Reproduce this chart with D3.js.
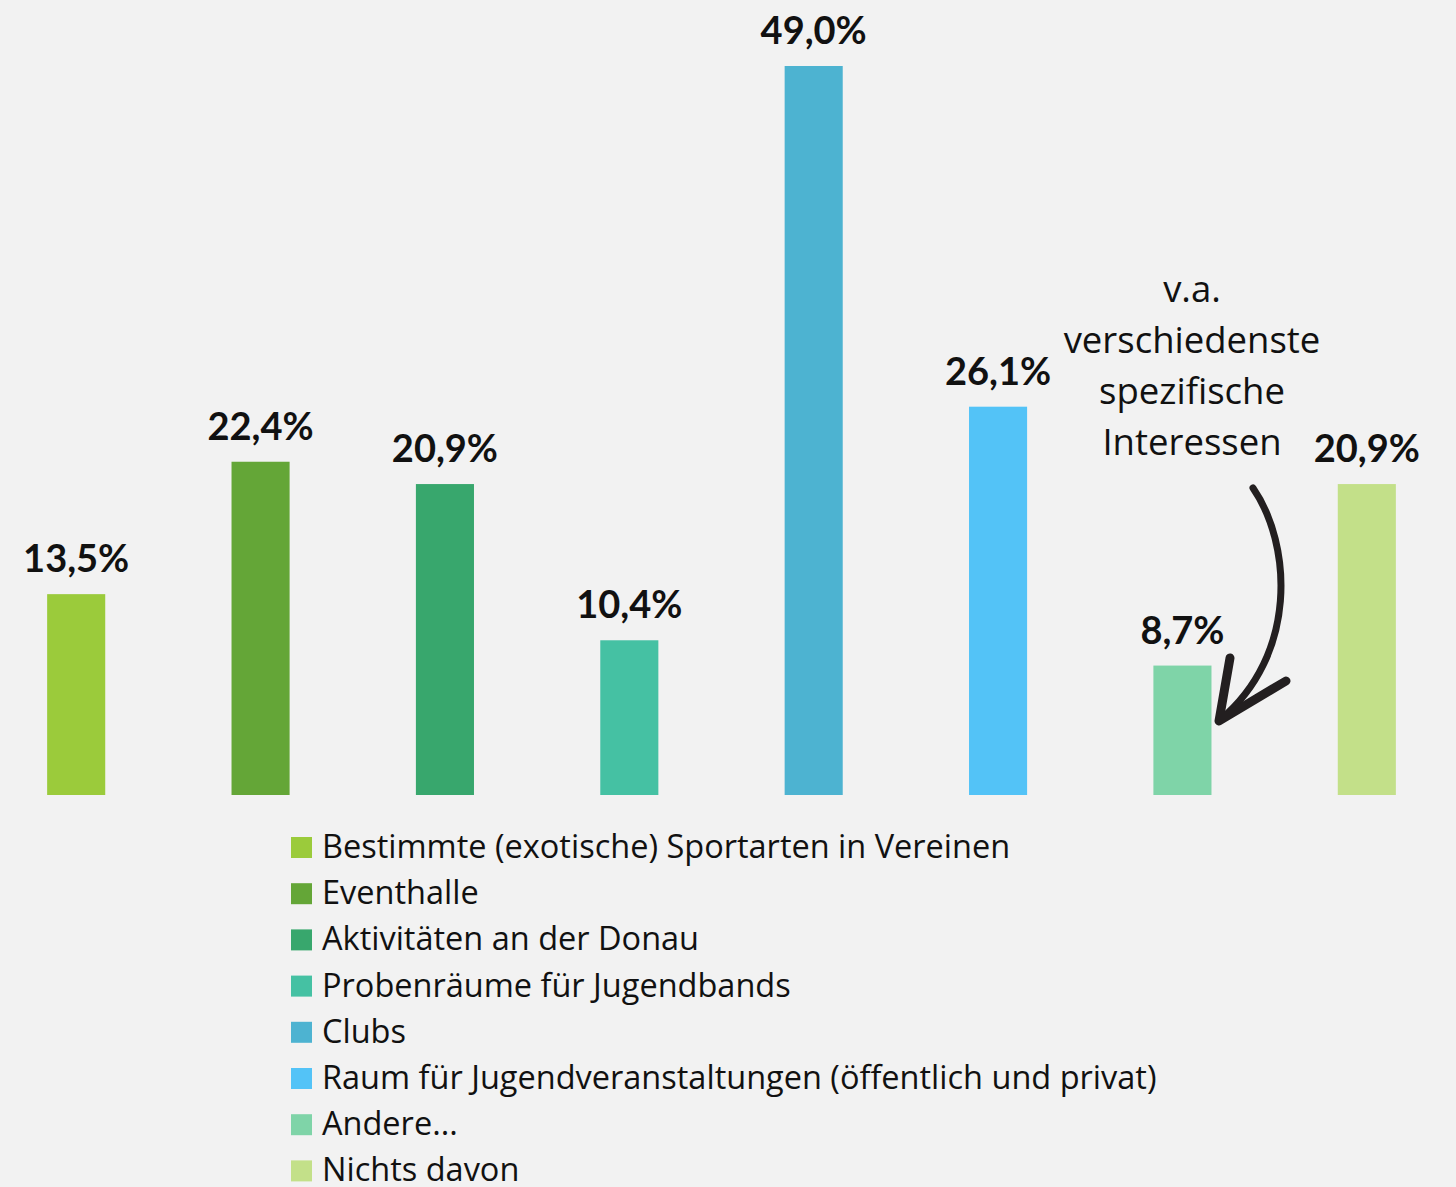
<!DOCTYPE html>
<html>
<head>
<meta charset="utf-8">
<script src="https://cdn.jsdelivr.net/npm/d3@7"></script>
<style>
  html, body { margin: 0; padding: 0; background: #f2f2f2; }
  svg { display: block; }
</style>
</head>
<body>
<div id="plot"></div>
<script>
var categories = [
  "Bestimmte (exotische) Sportarten in Vereinen",
  "Eventhalle",
  "Aktivitäten an der Donau",
  "Probenräume für Jugendbands",
  "Clubs",
  "Raum für Jugendveranstaltungen (öffentlich und privat)",
  "Andere...",
  "Nichts davon"
];

var values = [13.5, 22.4, 20.9, 10.4, 49.0, 26.1, 8.7, 20.9];

var colors = ["#9bcb3b", "#64a637", "#38a76d", "#45c1a3", "#4db3d1", "#53c3f7", "#7fd4a8", "#c3e089"];

var noteLines = ["v.a.", "verschiedenste", "spezifische", "Interessen"];

var width = 1456, height = 1187;
var baseY = 795;

function fmt(v) {
  return v.toFixed(1).replace(".", ",") + "%";
}

var svg = d3.select("#plot")
  .append("svg")
  .attr("width", width)
  .attr("height", height);

svg.append("rect")
  .attr("width", width)
  .attr("height", height)
  .attr("fill", "#f2f2f2");

const x = d3.scaleBand()
  .domain(categories)
  .range([-16, 1459])
  .paddingInner(0.685)
  .paddingOuter(0.3425);

const y = d3.scaleLinear()
  .domain([0, 49])
  .range([baseY, 66]);

var bars = svg.append("g");

bars.selectAll("rect")
  .data(values)
  .enter().append("rect")
  .attr("x", function (d, i) { return x(categories[i]); })
  .attr("y", function (d) { return y(d); })
  .attr("width", x.bandwidth())
  .attr("height", function (d) { return baseY - y(d); })
  .attr("fill", function (d, i) { return colors[i]; });

bars.selectAll("text")
  .data(values)
  .enter().append("text")
  .attr("x", function (d, i) { return x(categories[i]) + x.bandwidth() / 2; })
  .attr("y", function (d) { return y(d) - 22; })
  .attr("text-anchor", "middle")
  .style("font-family", "Lato")
  .style("font-weight", "bold")
  .style("font-size", "38px")
  .attr("fill", "#111")
  .text(function (d) { return fmt(d); });

// annotation for "Andere..."
var note = svg.append("text")
  .attr("text-anchor", "middle")
  .style("font-family", "'Open Sans'")
  .style("font-size", "36.5px")
  .attr("fill", "#111");

note.selectAll("tspan")
  .data(noteLines)
  .enter().append("tspan")
  .attr("x", 1192)
  .attr("y", function (d, i) { return 302 + i * 51; })
  .text(function (d) { return d; });

svg.append("path")
  .attr("d", "M1253,488 C1292,545 1298,655 1220,720")
  .attr("fill", "none")
  .attr("stroke", "#231f20")
  .attr("stroke-width", 7)
  .attr("stroke-linecap", "round");

svg.append("path")
  .attr("d", "M1230,658 L1219,721 L1286,681")
  .attr("fill", "none")
  .attr("stroke", "#231f20")
  .attr("stroke-width", 9)
  .attr("stroke-linecap", "round")
  .attr("stroke-linejoin", "round");

// legend
var legend = svg.append("g")
  .attr("transform", "translate(291, 837)");

var rows = legend.selectAll("g")
  .data(categories)
  .enter().append("g")
  .attr("transform", function (d, i) { return "translate(0," + (i * 46.2) + ")"; });

rows.append("rect")
  .attr("width", 21)
  .attr("height", 21)
  .attr("fill", function (d, i) { return colors[i]; });

rows.append("text")
  .attr("x", 31)
  .attr("y", 21)
  .style("font-family", "'Open Sans'")
  .style("font-size", "32.5px")
  .attr("fill", "#111")
  .text(function (d) { return d; });
</script>
</body>
</html>
